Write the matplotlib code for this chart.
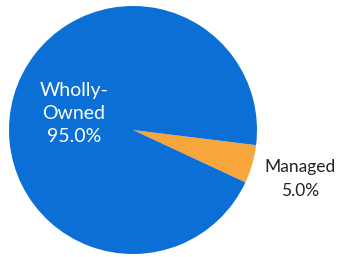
import matplotlib
matplotlib.use("Agg")
from matplotlib import pyplot as plt

# data
names = ["Managed", "Wholly-\nOwned"]
shares = [5.0, 95.0]
colors = ["#f6a63a", "#0b6fd5"]
label_colors = ["#222222", "white"]
label_pos = [(1.35, -0.395), (-0.475, 0.135)]
label_size = [12.5, 14]
label_spacing = [1.6, 1.42]

fig = plt.figure(figsize=(3.39, 2.57), dpi=100)
ax = fig.add_axes([9 / 339, 3 / 257, 248 / 339, 248 / 257])

ax.pie(shares, colors=colors, startangle=-25, counterclock=True,
       wedgeprops={"linewidth": 0})

for name, val, c, (x, y), fs, ls in zip(names, shares, label_colors,
                                         label_pos, label_size, label_spacing):
    ax.text(x, y, f"{name}\n{val:.1f}%", ha="center", va="center",
            color=c, fontsize=fs, family="Lato", linespacing=ls)

ax.set_xlim(-1, 1)
ax.set_ylim(-1, 1)
ax.set_aspect("equal")
ax.axis("off")

fig.savefig("out.png", dpi=100)
